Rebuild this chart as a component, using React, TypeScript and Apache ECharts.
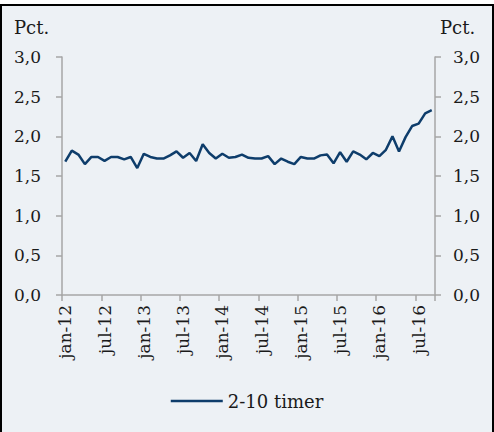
import React, { useEffect, useRef } from "react";
import * as echarts from "echarts";

const MONTHS = ["jan", "feb", "mar", "apr", "maj", "jun", "jul", "aug", "sep", "okt", "nov", "dec"];
const YEARS = ["12", "13", "14", "15", "16"];
const LAST_MONTH_2016 = 9; // series runs jan-12 .. sep-16

const categories: string[] = [];
YEARS.forEach((y, yi) => {
  const n = yi === YEARS.length - 1 ? LAST_MONTH_2016 : 12;
  for (let m = 0; m < n; m++) categories.push(MONTHS[m] + "-" + y);
});

const SERIES_NAME = "2-10 timer";
const values = [
  1.68, 1.82, 1.77, 1.65, 1.74, 1.74, 1.69, 1.74, 1.74, 1.71, 1.74, 1.6,
  1.78, 1.74, 1.72, 1.72, 1.76, 1.81, 1.73, 1.79, 1.69, 1.9, 1.79, 1.72,
  1.78, 1.73, 1.74, 1.77, 1.73, 1.72, 1.72, 1.75, 1.65, 1.72, 1.68, 1.65,
  1.74, 1.72, 1.72, 1.76, 1.77, 1.66, 1.8, 1.68, 1.81, 1.77, 1.71, 1.79,
  1.75, 1.83, 2.0, 1.81, 1.99, 2.13, 2.16, 2.29, 2.33,
];
const Y_MIN = 0;
const Y_MAX = 3;
const Y_STEP = 0.5;
const UNIT = "Pct.";

const FONT = "DejaVu Serif";
const AXIS_COLOR = "#A6A6A6";
const TEXT_COLOR = "#1A1A1A";
const LINE_COLOR = "#0E3D6B";

const fmt = (v: number) => v.toFixed(1).replace(".", ",");

export default function App() {
  const ref = useRef<HTMLDivElement>(null);
  useEffect(() => {
    if (!ref.current) return;
    const chart = echarts.init(ref.current, null, { renderer: "svg" });
    const yAxisCommon = {
      type: "value" as const,
      min: Y_MIN,
      max: Y_MAX,
      interval: Y_STEP,
      splitLine: { show: false },
      axisLine: { show: true, lineStyle: { color: AXIS_COLOR, width: 1.5 } },
      axisTick: { show: true, length: 6, lineStyle: { color: AXIS_COLOR, width: 1.5 } },
    };
    const yLabel = {
      formatter: fmt,
      color: TEXT_COLOR,
      fontFamily: FONT,
      fontSize: 17,
    };
    chart.setOption({
      animation: false,
      backgroundColor: "#EDF1F5",
      textStyle: { fontFamily: FONT },
      graphic: [
        { type: "rect", shape: { x: 0, y: 0, width: 494, height: 4 }, style: { fill: "#FFFFFF" }, z: 100 },
        {
          type: "rect",
          shape: { x: 1, y: 5, width: 492, height: 440 },
          style: { fill: "none", stroke: "#000000", lineWidth: 2 },
          z: 100,
        },
        {
          type: "text",
          left: 14,
          top: 18,
          style: { text: UNIT, fill: TEXT_COLOR, font: `18px "${FONT}"` },
        },
        {
          type: "text",
          left: 440,
          top: 18,
          style: { text: UNIT, fill: TEXT_COLOR, font: `18px "${FONT}"` },
        },
      ],
      grid: { left: 62, right: 59, top: 57, bottom: 137, containLabel: false },
      xAxis: {
        type: "category",
        data: categories,
        boundaryGap: true,
        axisLine: { show: true, lineStyle: { color: AXIS_COLOR, width: 1.5 } },
        axisTick: { show: true, interval: 5, length: 6, lineStyle: { color: AXIS_COLOR, width: 1.5 } },
        axisLabel: {
          interval: 5,
          rotate: 90,
          color: TEXT_COLOR,
          fontFamily: FONT,
          fontSize: 17,
          margin: 10,
        },
        splitLine: { show: false },
      },
      yAxis: [
        { ...yAxisCommon, position: "left", axisLabel: { ...yLabel, margin: 21 } },
        { ...yAxisCommon, position: "right", axisLabel: { ...yLabel, margin: 18 } },
      ],
      legend: {
        show: true,
        top: 387,
        left: "center",
        icon: "rect",
        itemWidth: 52,
        itemHeight: 2.5,
        itemGap: 10,
        textStyle: { color: TEXT_COLOR, fontFamily: FONT, fontSize: 18 },
        data: [SERIES_NAME],
      },
      series: [
        {
          name: SERIES_NAME,
          type: "line",
          yAxisIndex: 0,
          data: values,
          symbol: "none",
          lineStyle: { color: LINE_COLOR, width: 2.5 },
          itemStyle: { color: LINE_COLOR },
        },
      ],
    });
    return () => chart.dispose();
  }, []);
  return (
    <div
      ref={ref}
      style={{ position: "fixed", left: 0, top: 0, width: 494, height: 432 }}
    />
  );
}
